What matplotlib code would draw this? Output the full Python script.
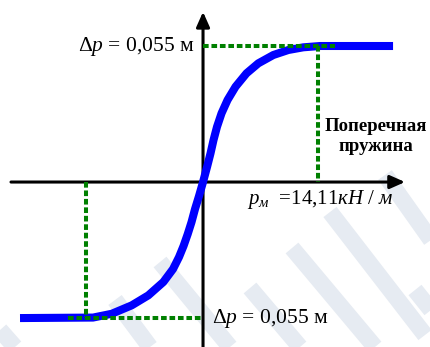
import matplotlib
matplotlib.use('Agg')
import matplotlib.pyplot as plt
from matplotlib.lines import Line2D

plt.rcParams['font.family'] = ['Liberation Serif', 'DejaVu Serif']
plt.rcParams['mathtext.fontset'] = 'custom'
plt.rcParams['mathtext.rm'] = 'Liberation Serif'
plt.rcParams['mathtext.it'] = 'Liberation Serif:italic'
plt.rcParams['mathtext.bf'] = 'Liberation Serif:bold'

# transverse spring characteristic: force (kN) vs deflection (m)
dp = 0.055          # deflection limit, m
stiff = 14.11       # kN/m
force = [-1.2323, -0.7407, -0.6148, -0.4801, -0.3684, -0.2673, -0.202, -0.1616, -0.1313,
         -0.103, -0.0774, -0.0539, -0.027, 0.0,
         0.027, 0.0505, 0.0707, 0.0943, 0.1246, 0.165, 0.2189, 0.2929, 0.3724, 0.4734,
         0.5744, 0.6754, 0.7879, 1.2795]
defl = [-0.055, -0.0548, -0.05326, -0.04986, -0.04582, -0.04044, -0.03518, -0.03033, -0.02588,
        -0.02103, -0.01618, -0.01092, -0.00566, 0.0,
        0.00607, 0.01161, 0.01699, 0.02236, 0.02778, 0.03316, 0.03854, 0.04396, 0.048, 0.05136,
        0.05338, 0.05447, 0.055, 0.055]
f_lim = dp * stiff  # force at which the spring reaches its limit

fig = plt.figure(figsize=(4.31, 3.47), dpi=100)
ax = fig.add_axes([0, 0, 1, 1])
ax.set_xlim(-1.367, 1.535)
ax.set_ylim(-0.0667, 0.0736)
ax.axis('off')

# faint background stripes
def px(x, y):
    return x / 431, 1 - y / 347
stripes = [((330, 212), (425, 335)), ((292, 248), (375, 347)), ((250, 288), (300, 347)),
           ((385, 175), (431, 240)), ((160, 262), (230, 347)), ((115, 300), (150, 347)),
           ((0, 330), (15, 347)), ((415, 290), (431, 310))]
for a, b in stripes:
    (x0, y0), (x1, y1) = px(*a), px(*b)
    fig.add_artist(Line2D([x0, x1], [y0, y1], transform=fig.transFigure, color='#e6ebf2',
                          lw=12, solid_capstyle='butt', zorder=0))

# axes with arrows
arr = dict(arrowstyle='-|>,head_length=0.9,head_width=0.4', lw=2.2, color='k',
           shrinkA=0, shrinkB=0)
ax.annotate('', xy=(1.36, 0), xytext=(-1.293, 0), arrowprops=arr, zorder=3)
ax.annotate('', xy=(0, 0.0688), xytext=(0, -0.0667), arrowprops=arr, zorder=3)

ax.plot(force, defl, color='#0000ff', lw=5.8, solid_capstyle='butt',
        solid_joinstyle='round', zorder=4)

gkw = dict(color='#008000', lw=2.9, dashes=(1.4, 0.7), solid_capstyle='butt', zorder=5)
ax.plot([0, 0.89], [dp, dp], **gkw)
ax.plot([f_lim, f_lim], [dp, 0], **gkw)
ax.plot([-0.91, 0], [-dp, -dp], **gkw)
ax.plot([-0.79, -0.79], [0, -dp], **gkw)

ax.text(-0.055, dp, r'Δ$p$ = 0,055 м', fontsize=15.5, ha='right', va='center', zorder=6)
ax.text(0.06, -dp, r'Δ$p$ = 0,055 м', fontsize=15.5, ha='left', va='center', zorder=6)
ax.text(1.165, 0.0185, 'Поперечная\nпружина', fontsize=13.5, fontweight='bold',
        ha='center', va='center', linespacing=1.25, zorder=6)
ax.text(0.295, -0.0072, r'$p_{м}$  =14,11$кН\ /\ м$', fontsize=15, ha='left', va='center',
        zorder=6)

fig.savefig('out.png', dpi=100)
